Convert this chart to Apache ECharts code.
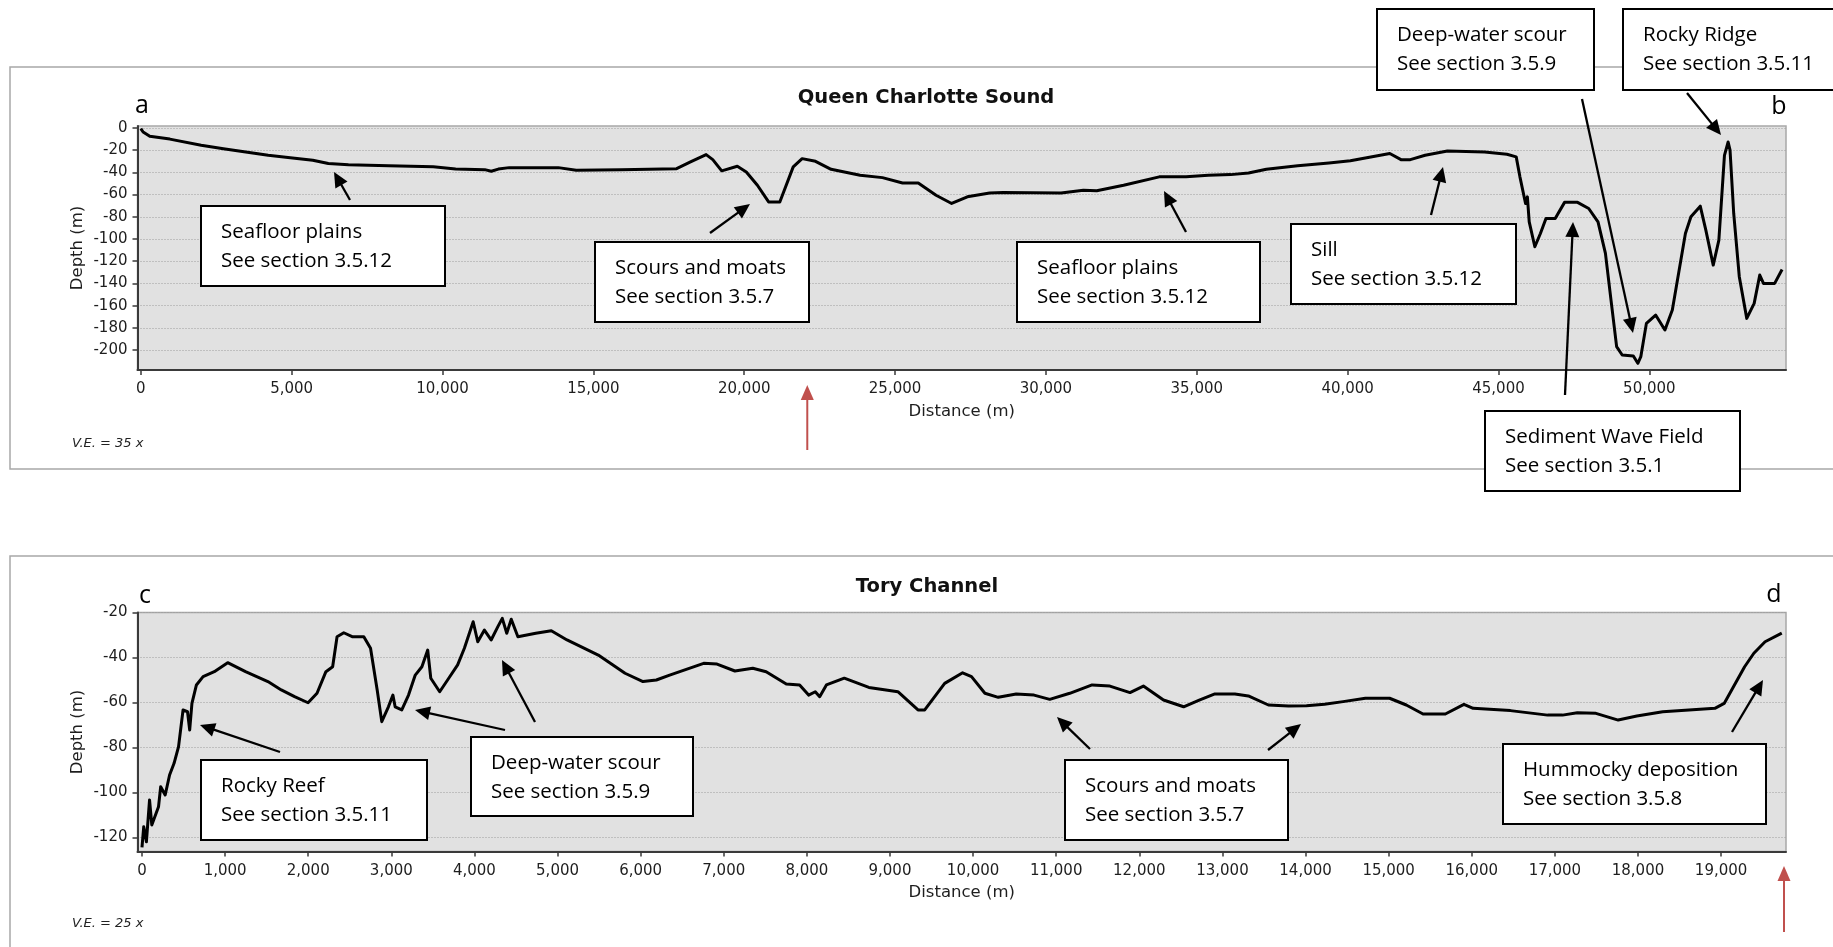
<!DOCTYPE html>
<html>
<head>
<meta charset="utf-8">
<script src="https://cdn.jsdelivr.net/npm/echarts@6/dist/echarts.min.js"></script>
<style>
  html, body { margin: 0; padding: 0; background: #ffffff; }
  #chart { width: 1833px; height: 947px; }
</style>
</head>
<body>
<div id="chart"></div>
<script>
// ---- Queen Charlotte Sound bathymetric profile (distance m, depth m) ----
const qcsDistance = [0, 76, 297, 962, 2000, 2738, 3478, 4222, 4953, 5700, 6216, 6882, 8215, 9693, 10435, 11400, 11616, 11850, 12212, 13837,
  14431, 15909, 17759, 18219, 18737, 18958, 19254, 19771, 20069, 20437, 20808, 21180, 21624, 21919, 22363, 22880, 23842, 24581, 25247, 25768,
  26358, 26875, 27395, 28135, 28579, 30502, 31240, 31685, 32574, 33756, 34645, 35383, 36126, 36716, 37306, 38344, 39382, 40091, 41398, 41769,
  42078, 42569, 43307, 44540, 45280, 45588, 45711, 45897, 45958, 46019, 46205, 46390, 46574, 46880, 47190, 47621, 47991, 48299, 48545, 48730,
  48916, 49100, 49470, 49619, 49718, 49903, 50209, 50517, 50762, 51196, 51379, 51688, 51873, 52118, 52305, 52490, 52612, 52675, 52797, 52982,
  53229, 53475, 53660, 53784, 54154, 54400];
const qcsDepth = [-0.5, -3.6, -7.5, -10, -15.6, -18.6, -21.6, -24.6, -26.7, -29, -32, -33, -34, -35, -37, -37.5, -39, -37, -35.7, -35.7,
  -38, -37.5, -36.6, -30.6, -24, -28.5, -38.6, -34.5, -39.6, -51.6, -66.6, -66.6, -35, -27.6, -30, -37.2, -42.6, -44.7, -49.5, -49.5,
  -60.6, -68, -62, -58.5, -58.2, -58.5, -56, -56.6, -51.6, -44, -44, -42.6, -42, -40.5, -37.2, -34, -31.5, -29.5, -23, -28.5,
  -28.5, -24.6, -20.7, -21.6, -23.7, -26, -44, -68, -62, -84.6, -107, -95, -81.5, -81.5, -67, -67, -72.5, -84.6, -113, -155,
  -197, -204.5, -205.4, -212, -206, -176, -168.5, -182, -164, -95, -80, -70.4, -92, -123.5, -101, -24.6, -12.6, -20, -77, -134,
  -171.5, -158, -132.5, -140, -140, -127.4];

// ---- Tory Channel bathymetric profile (distance m, depth m) ----
const toryDistance = [0, 21, 53, 91, 118, 199, 225, 279, 332, 386, 440, 494, 548, 574, 601, 655, 735, 870, 1031, 1246,
  1515, 1676, 1836, 1998, 2106, 2213, 2294, 2347, 2428, 2535, 2669, 2750, 2830, 2885, 2965, 3019, 3046, 3126, 3207, 3288,
  3368, 3438, 3475, 3582, 3691, 3798, 3879, 3985, 4040, 4120, 4201, 4282, 4335, 4389, 4443, 4523, 4738, 4925, 5114, 5490,
  5812, 6028, 6189, 6349, 6758, 6919, 7134, 7349, 7510, 7752, 7913, 8021, 8101, 8154, 8235, 8450, 8746, 9095, 9337, 9418,
  9658, 9874, 9981, 10142, 10303, 10519, 10733, 10922, 11163, 11432, 11646, 11888, 12049, 12291, 12533, 12721, 12909, 13150, 13312, 13553,
  13795, 14011, 14228, 14452, 14720, 15011, 15212, 15414, 15682, 15906, 16017, 16465, 16913, 17092, 17270, 17494, 17762, 17986, 18298, 18613,
  18925, 19037, 19149, 19283, 19394, 19529, 19730];
const toryDepth = [-124.4, -115.2, -121.9, -103.3, -114.4, -106.3, -97.4, -101.1, -92.2, -87, -79.6, -63.3, -64.1, -72.2, -60.4, -52.2, -48.5, -46.3, -42.3, -46.3,
  -50.7, -54.4, -57.4, -60.1, -55.9, -46.3, -44.1, -30.8, -29, -30.8, -30.8, -35.9, -54.4, -68.5, -61.9, -56.7, -61.9, -63.3, -56.7, -47.8,
  -44.1, -36.7, -49.2, -55.2, -49.2, -43.3, -35.9, -24.1, -33, -27.8, -32.2, -26.3, -22.6, -29.2, -23, -30.8, -29.2, -28.1, -32.2, -38.9,
  -47, -50.7, -50, -47.8, -42.6, -42.9, -46, -44.8, -46.3, -51.8, -52.2, -56.7, -55.2, -57.4, -52.2, -49.2, -53.3, -55.2, -63.3, -63.3,
  -51.5, -46.8, -48.5, -55.9, -57.7, -56.2, -56.7, -58.6, -55.9, -52.2, -52.7, -55.6, -52.7, -58.9, -61.9, -58.9, -56.2, -56.2, -57.1, -61.1,
  -61.6, -61.4, -60.8, -59.6, -58.1, -58.1, -61.1, -65.1, -65.1, -60.8, -62.6, -63.6, -65.6, -65.6, -64.5, -64.8, -67.8, -66, -64.1, -63.3,
  -62.6, -60.4, -53, -44.1, -38.1, -33, -29.2];

// ---- axis ticks ----
const qcsXTicks = [0, 5000, 10000, 15000, 20000, 25000, 30000, 35000, 40000, 45000, 50000];
const qcsYTicks = [0, -20, -40, -60, -80, -100, -120, -140, -160, -180, -200];
const toryXTicks = [0, 1000, 2000, 3000, 4000, 5000, 6000, 7000, 8000, 9000, 10000, 11000, 12000, 13000, 14000, 15000, 16000, 17000, 18000, 19000];
const toryYTicks = [-20, -40, -60, -80, -100, -120];

// ---- texts ----
const titles = ['Queen Charlotte Sound', 'Tory Channel'];
const endLabels = ['a', 'b', 'c', 'd'];
const exaggeration = ['V.E. = 35 x', 'V.E. = 25 x'];
// distance along each profile flagged by the red locator arrow
const locatorDistance = [22090, 19757];

// ---- annotation callouts: [line1, line2, box x1, y1, x2, y2, arrows [[fromX, fromY, tipX, tipY], ...]] ----
const callouts = [
  ['Seafloor plains', 'See section 3.5.12', 201, 206, 445, 286, [[350, 200, 334, 172]]],
  ['Scours and moats', 'See section 3.5.7', 595, 242, 809, 322, [[710, 233, 750, 204]]],
  ['Seafloor plains', 'See section 3.5.12', 1017, 242, 1260, 322, [[1186, 232, 1164, 191]]],
  ['Sill', 'See section 3.5.12', 1291, 224, 1516, 304, [[1431, 215, 1443, 167]]],
  ['Deep-water scour', 'See section 3.5.9', 1377, 9, 1594, 90, [[1582, 99, 1633, 333]]],
  ['Rocky Ridge', 'See section 3.5.11', 1623, 9, 1835, 90, [[1687, 93, 1721, 135]]],
  ['Sediment Wave Field', 'See section 3.5.1', 1485, 411, 1740, 491, [[1565, 395, 1573, 222]]],
  ['Rocky Reef', 'See section 3.5.11', 201, 760, 427, 840, [[280, 752, 200, 725]]],
  ['Deep-water scour', 'See section 3.5.9', 471, 737, 693, 816, [[505, 730, 415, 710], [535, 722, 502, 660]]],
  ['Scours and moats', 'See section 3.5.7', 1065, 760, 1288, 840, [[1090, 749, 1057, 717], [1268, 750, 1301, 724]]],
  ['Hummocky deposition', 'See section 3.5.8', 1503, 744, 1766, 824, [[1732, 732, 1763, 680]]]
];

const zip = (xs, ys) => xs.map((x, i) => [x, ys[i]]);
const fmt = v => Number(v).toLocaleString('en-US');

const AXIS_FONT = 'DejaVu Sans';
const NOTE_FONT = 'Open Sans';
const axisDark = '#3a3a3a';

function xAxisCfg(gridIndex, min, max, ticks) {
  return {
    type: 'value', gridIndex, min, max,
    name: 'Distance (m)', nameLocation: 'middle', nameGap: 33, nameMoveOverlap: false,
    nameTextStyle: { fontFamily: AXIS_FONT, fontSize: 16.5, color: '#1e1e1e' },
    axisLine: { show: true, onZero: false, lineStyle: { color: axisDark, width: 2 } },
    axisTick: { show: true, length: 5, customValues: ticks, lineStyle: { color: axisDark, width: 1.5 } },
    axisLabel: { customValues: ticks, formatter: fmt, margin: 12, fontFamily: AXIS_FONT, fontSize: 15, color: '#1e1e1e' },
    splitLine: { show: false }
  };
}
function yAxisCfg(gridIndex, min, max, ticks) {
  return {
    type: 'value', gridIndex, min, max,
    name: 'Depth (m)', nameLocation: 'middle', nameGap: 51, nameRotate: 90, nameMoveOverlap: false,
    nameTextStyle: { fontFamily: AXIS_FONT, fontSize: 16.5, color: '#1e1e1e' },
    axisLine: { show: true, onZero: false, lineStyle: { color: axisDark, width: 2 } },
    axisTick: { show: true, length: 5, customValues: ticks, lineStyle: { color: axisDark, width: 1.5 } },
    axisLabel: { customValues: ticks, formatter: v => String(v), margin: 10, fontFamily: AXIS_FONT, fontSize: 15, color: '#1e1e1e' },
    splitLine: { show: true, lineStyle: { color: '#9c9c9c', width: 1, type: [1, 2] } }
  };
}

const chart = echarts.init(document.getElementById('chart'), null, { renderer: 'canvas' });

chart.setOption({
  animation: false,
  backgroundColor: '#ffffff',
  textStyle: { fontFamily: AXIS_FONT },
  grid: [
    { left: 137.5, top: 126, right: 47, height: 244, show: true, backgroundColor: '#e1e1e1', borderColor: '#a8a8a8', borderWidth: 1.5, outerBoundsMode: 'none', containLabel: false },
    { left: 137.5, top: 612.5, right: 47, height: 239, show: true, backgroundColor: '#e1e1e1', borderColor: '#a8a8a8', borderWidth: 1.5, outerBoundsMode: 'none', containLabel: false }
  ],
  xAxis: [
    xAxisCfg(0, -110, 54530, qcsXTicks),
    xAxisCfg(1, -54, 19781, toryXTicks)
  ],
  yAxis: [
    yAxisCfg(0, -218, 1.8, qcsYTicks),
    yAxisCfg(1, -126.2, -20, toryYTicks)
  ],
  series: [
    {
      name: 'Queen Charlotte Sound', type: 'line', xAxisIndex: 0, yAxisIndex: 0,
      data: zip(qcsDistance, qcsDepth), showSymbol: false, smooth: false, z: 5,
      lineStyle: { color: '#000000', width: 3, join: 'round' }
    },
    {
      name: 'Tory Channel', type: 'line', xAxisIndex: 1, yAxisIndex: 1,
      data: zip(toryDistance, toryDepth), showSymbol: false, smooth: false, z: 5,
      lineStyle: { color: '#000000', width: 3, join: 'round' }
    }
  ]
});

// ---- overlay: panel frames, titles, labels, callouts and arrows ----
function arrowShapes(x1, y1, x2, y2, color, width, headLen, headHalf, z) {
  const dx = x2 - x1, dy = y2 - y1;
  const len = Math.sqrt(dx * dx + dy * dy);
  const ux = dx / len, uy = dy / len;
  const bx = x2 - ux * headLen, by = y2 - uy * headLen;
  const px = -uy * headHalf, py = ux * headHalf;
  return [
    { type: 'line', z, shape: { x1, y1, x2: bx + ux * 2, y2: by + uy * 2 }, style: { stroke: color, lineWidth: width } },
    { type: 'polygon', z, shape: { points: [[x2, y2], [bx + px, by + py], [bx - px, by - py]] }, style: { fill: color } }
  ];
}

const g = [];
// panel frames
g.push({ type: 'rect', z: 1, shape: { x: 10, y: 67, width: 1830, height: 402 }, style: { fill: null, stroke: '#a8a8a8', lineWidth: 1.5 } });
g.push({ type: 'rect', z: 1, shape: { x: 10, y: 556, width: 1830, height: 420 }, style: { fill: null, stroke: '#a8a8a8', lineWidth: 1.5 } });

// titles
g.push({ type: 'text', z: 10, style: { text: titles[0], x: 926, y: 98, align: 'center', verticalAlign: 'middle', fontFamily: AXIS_FONT, fontWeight: 'bold', fontSize: 19.5, fill: '#111' } });
g.push({ type: 'text', z: 10, style: { text: titles[1], x: 927, y: 587, align: 'center', verticalAlign: 'middle', fontFamily: AXIS_FONT, fontWeight: 'bold', fontSize: 19.5, fill: '#111' } });

// profile end letters
[[142, 106], [1779, 107], [145, 596], [1774, 595]].forEach((p, i) => {
  g.push({ type: 'text', z: 10, style: { text: endLabels[i], x: p[0], y: p[1], align: 'center', verticalAlign: 'middle', fontFamily: NOTE_FONT, fontSize: 25, fill: '#000' } });
});

// vertical exaggeration notes
g.push({ type: 'text', z: 10, style: { text: exaggeration[0], x: 72, y: 444, verticalAlign: 'middle', fontFamily: AXIS_FONT, fontStyle: 'italic', fontSize: 13, fill: '#222' } });
g.push({ type: 'text', z: 10, style: { text: exaggeration[1], x: 72, y: 924, verticalAlign: 'middle', fontFamily: AXIS_FONT, fontStyle: 'italic', fontSize: 13, fill: '#222' } });

// callout boxes with arrows
callouts.forEach(c => {
  const [l1, l2, x1, y1, x2, y2, arrows] = c;
  g.push({ type: 'rect', z: 20, shape: { x: x1, y: y1, width: x2 - x1, height: y2 - y1 }, style: { fill: '#ffffff', stroke: '#000000', lineWidth: 2 } });
  g.push({ type: 'text', z: 21, style: { text: l1, x: x1 + 20, y: y1 + 26.5, verticalAlign: 'middle', fontFamily: NOTE_FONT, fontSize: 20.5, fill: '#000' } });
  g.push({ type: 'text', z: 21, style: { text: l2, x: x1 + 20, y: y1 + 55, verticalAlign: 'middle', fontFamily: NOTE_FONT, fontSize: 20.5, fill: '#000' } });
  arrows.forEach(a => arrowShapes(a[0], a[1], a[2], a[3], '#000000', 2.3, 15, 7, 22).forEach(s => g.push(s)));
});

// red locator arrows below each profile's distance axis
const locTop = chart.convertToPixel({ xAxisIndex: 0 }, locatorDistance[0]);
const locBottom = chart.convertToPixel({ xAxisIndex: 1 }, locatorDistance[1]);
arrowShapes(locTop, 450, locTop, 385, '#c0504d', 2, 15, 6.5, 15).forEach(s => g.push(s));
arrowShapes(locBottom, 932, locBottom, 866, '#c0504d', 2, 15, 6.5, 15).forEach(s => g.push(s));

chart.setOption({ graphic: { elements: g } });
</script>
</body>
</html>
